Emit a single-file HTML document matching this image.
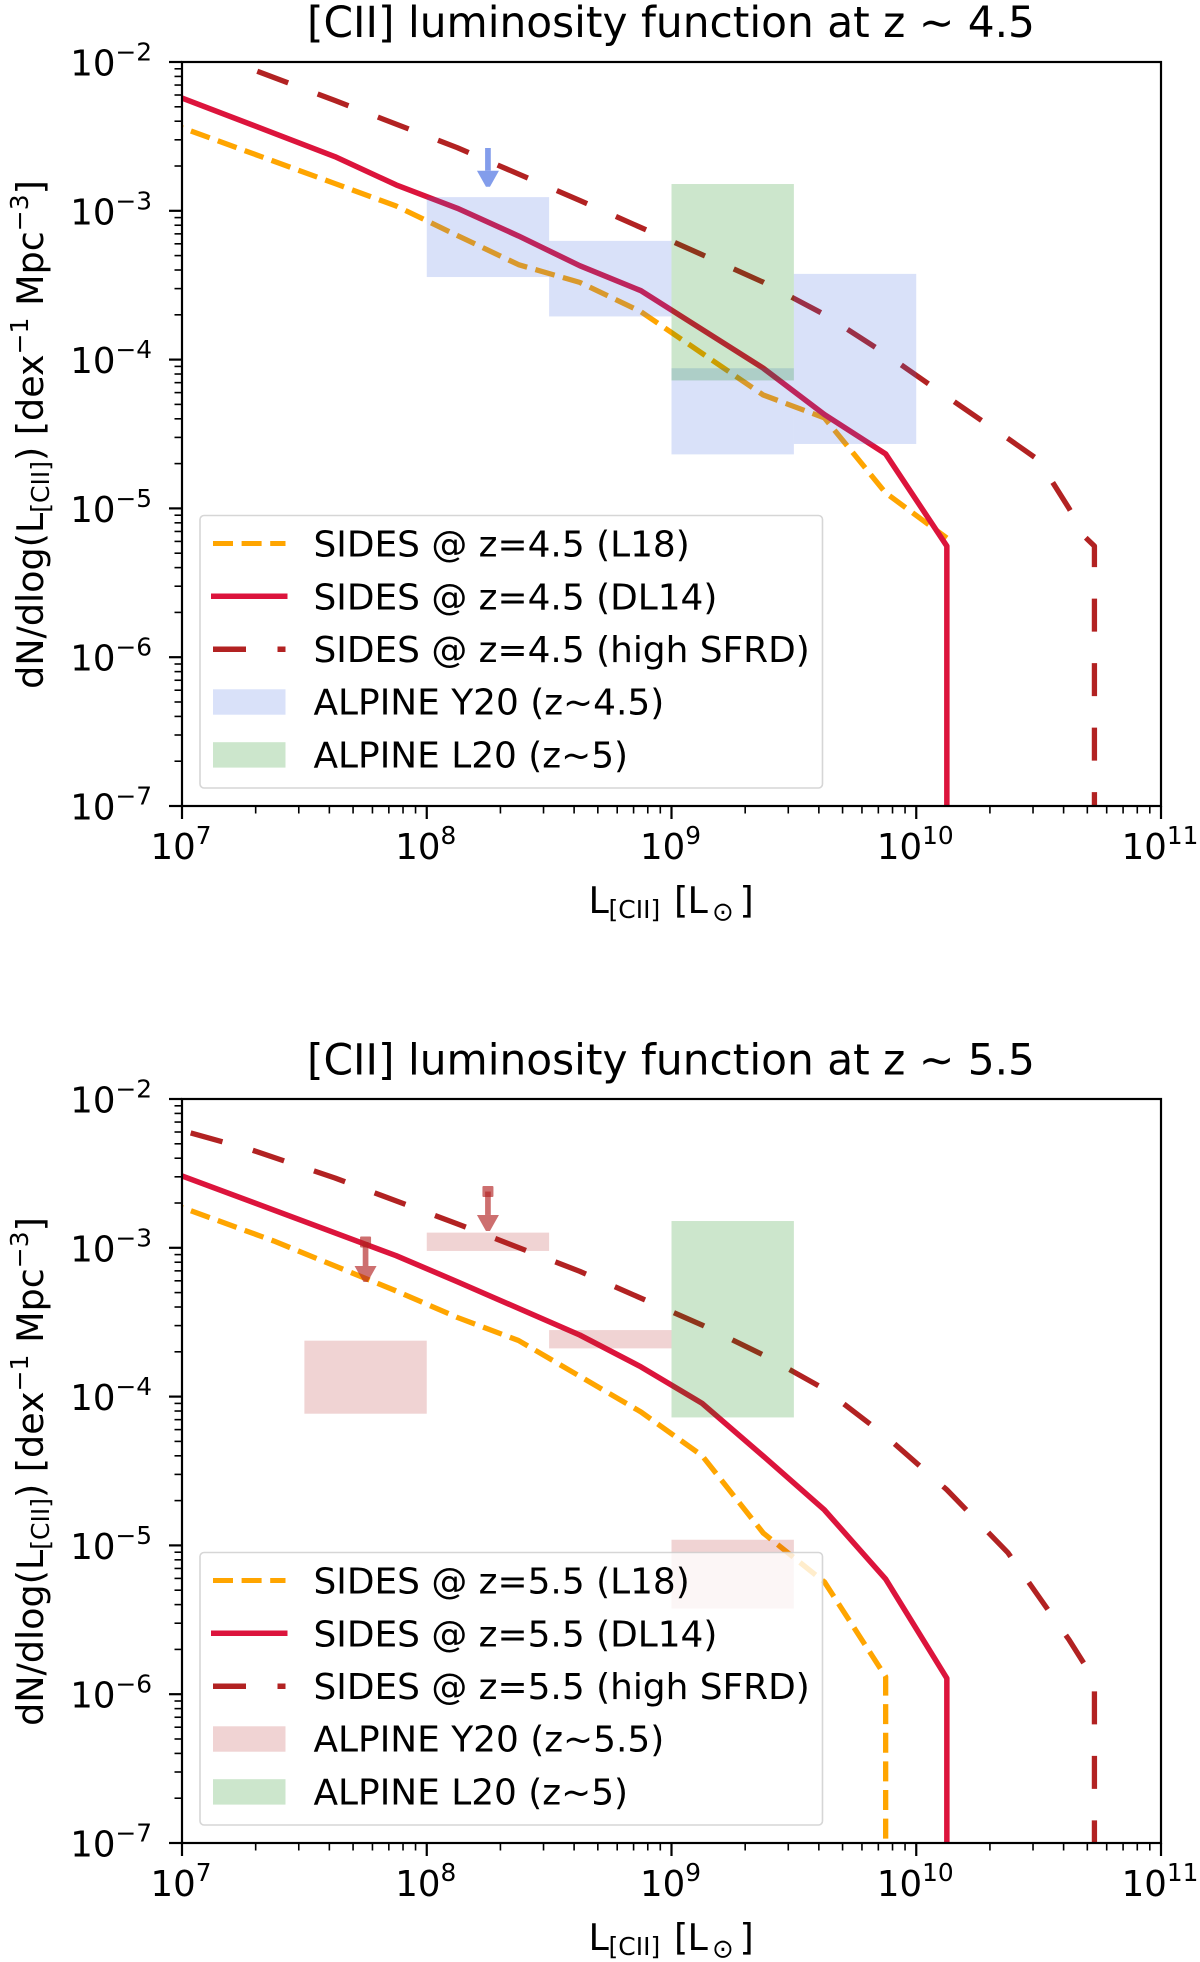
<!DOCTYPE html>
<html lang="en">
<head>
<meta charset="utf-8">
<title>[CII] luminosity functions</title>
<style>
html,body{margin:0;padding:0;background:#fff;width:1200px;height:1962px;overflow:hidden}
svg{display:block}
text{font-family:"DejaVu Sans","Liberation Sans",sans-serif;fill:#000}
.title{font-size:42.3px;text-anchor:middle}
.axis-label{font-size:36.5px}
.legend-text{font-size:35.9px}
</style>
</head>
<body>
<svg id="figure" xmlns="http://www.w3.org/2000/svg" width="1200" height="1962" viewBox="0 0 1200 1962">
  <defs>
    <clipPath id="clip-a"><rect x="182" y="62" width="979" height="744"/></clipPath>
    <clipPath id="clip-b"><rect x="182" y="1099" width="979" height="744"/></clipPath>
  </defs>

  <g id="panel-a">
    <text class="title" x="671" y="37">[CII] luminosity function at z ∼ 4.5</text>
    <g id="marks-a" clip-path="url(#clip-a)"></g>
    <g id="axes-a"></g>
    <text class="axis-label" y="913"><tspan x="588.5">L</tspan><tspan x="608.5" y="918" font-size="25">[CII]</tspan><tspan x="674" y="913">[</tspan><tspan x="687.5">L</tspan><tspan x="712" y="920.5" font-size="26">⊙</tspan><tspan x="739.5" y="913">]</tspan></text>
    <text class="axis-label" transform="translate(43,434.5) rotate(-90)" text-anchor="middle">dN/dlog(L<tspan font-size="25" dy="6">[CII]</tspan><tspan dy="-6">) [dex</tspan><tspan font-size="25" dy="-15">−1</tspan><tspan dy="15"> Mpc</tspan><tspan font-size="25" dy="-15">−3</tspan><tspan dy="15">]</tspan></text>
    <g>
      <rect x="200" y="515.5" width="622.5" height="272.5" rx="4" fill="#fff" fill-opacity="0.8" stroke="#cccccc" stroke-opacity="0.8" stroke-width="1.6"/>
      <line x1="213" y1="543.5" x2="285.5" y2="543.5" stroke="#FFA500" stroke-width="5" stroke-dasharray="20 8.6"/>
      <text class="legend-text" x="313.5" y="556.5">SIDES @ z=4.5 (L18)</text>
      <line x1="211" y1="596.3" x2="287.5" y2="596.3" stroke="#DC143C" stroke-width="5.5"/>
      <text class="legend-text" x="313.5" y="609.3">SIDES @ z=4.5 (DL14)</text>
      <line x1="213" y1="649.2" x2="285.5" y2="649.2" stroke="#B22222" stroke-width="5.5" stroke-dasharray="33 31.5"/>
      <text class="legend-text" x="313.5" y="662.2">SIDES @ z=4.5 (high SFRD)</text>
      <rect x="213" y="689.3" width="72.5" height="25.4" fill="#4169E1" fill-opacity="0.2"/>
      <text class="legend-text" x="313.5" y="714.7">ALPINE Y20 (z~4.5)</text>
      <rect x="213" y="742.2" width="72.5" height="25.4" fill="#008000" fill-opacity="0.2"/>
      <text class="legend-text" x="313.5" y="767.5">ALPINE L20 (z~5)</text>
    </g>
  </g>

  <g id="panel-b">
    <text class="title" x="671" y="1074.5">[CII] luminosity function at z ∼ 5.5</text>
    <g id="marks-b" clip-path="url(#clip-b)"></g>
    <g id="axes-b"></g>
    <text class="axis-label" y="1950"><tspan x="588.5">L</tspan><tspan x="608.5" y="1955" font-size="25">[CII]</tspan><tspan x="674" y="1950">[</tspan><tspan x="687.5">L</tspan><tspan x="712" y="1957.5" font-size="26">⊙</tspan><tspan x="739.5" y="1950">]</tspan></text>
    <text class="axis-label" transform="translate(43,1471.5) rotate(-90)" text-anchor="middle">dN/dlog(L<tspan font-size="25" dy="6">[CII]</tspan><tspan dy="-6">) [dex</tspan><tspan font-size="25" dy="-15">−1</tspan><tspan dy="15"> Mpc</tspan><tspan font-size="25" dy="-15">−3</tspan><tspan dy="15">]</tspan></text>
    <g>
      <rect x="200" y="1552.5" width="622.5" height="272.5" rx="4" fill="#fff" fill-opacity="0.8" stroke="#cccccc" stroke-opacity="0.8" stroke-width="1.6"/>
      <line x1="213" y1="1580.5" x2="285.5" y2="1580.5" stroke="#FFA500" stroke-width="5" stroke-dasharray="20 8.6"/>
      <text class="legend-text" x="313.5" y="1593.5">SIDES @ z=5.5 (L18)</text>
      <line x1="211" y1="1633.3" x2="287.5" y2="1633.3" stroke="#DC143C" stroke-width="5.5"/>
      <text class="legend-text" x="313.5" y="1646.3">SIDES @ z=5.5 (DL14)</text>
      <line x1="213" y1="1686.2" x2="285.5" y2="1686.2" stroke="#B22222" stroke-width="5.5" stroke-dasharray="33 31.5"/>
      <text class="legend-text" x="313.5" y="1699.2">SIDES @ z=5.5 (high SFRD)</text>
      <rect x="213" y="1726.3" width="72.5" height="25.4" fill="#B22222" fill-opacity="0.2"/>
      <text class="legend-text" x="313.5" y="1751.7">ALPINE Y20 (z~5.5)</text>
      <rect x="213" y="1779.2" width="72.5" height="25.4" fill="#008000" fill-opacity="0.2"/>
      <text class="legend-text" x="313.5" y="1804.5">ALPINE L20 (z~5)</text>
    </g>
  </g>
</svg>

<script>
// ---- tick labels (exponents of ten) ----
var xTickExponents = [7, 8, 9, 10, 11];
var yTickExponents = [-2, -3, -4, -5, -6, -7];

// ---- z~4.5 model curves: log10 L[CII] and log10 dN/dlogL ----
var l18Z45LogL   = [7, 7.625, 7.875, 8.125, 8.375, 8.625, 8.875, 9.375, 9.625, 9.875, 10.125];
var l18Z45LogPhi = [-2.4415, -2.817, -2.968, -3.166, -3.362, -3.481, -3.678, -4.238, -4.392, -4.896, -5.199];
var dl14Z45LogL   = [7, 7.625, 7.875, 8.125, 8.375, 8.625, 8.875, 9.375, 9.625, 9.875, 10.125, 10.125];
var dl14Z45LogPhi = [-2.242, -2.636, -2.826, -2.983, -3.169, -3.369, -3.537, -4.058, -4.369, -4.634, -5.253, -7.5];
var highZ45LogL   = [7.061, 7.625, 8.125, 8.625, 9.125, 9.375, 9.625, 9.875, 10.125, 10.375, 10.5, 10.625, 10.69, 10.728, 10.728];
var highZ45LogPhi = [-1.909, -2.259, -2.576, -2.93, -3.295, -3.48, -3.697, -3.962, -4.249, -4.531, -4.675, -5.002, -5.193, -5.253, -7.5];

// ---- z~5.5 model curves ----
var l18Z55LogL   = [7, 7.375, 7.625, 7.875, 8.125, 8.375, 8.875, 9.125, 9.375, 9.625, 9.875, 9.875];
var l18Z55LogPhi = [-2.729, -2.954, -3.122, -3.29, -3.468, -3.623, -4.103, -4.397, -4.917, -5.246, -5.882, -7.5];
var dl14Z55LogL   = [7, 7.875, 8.125, 8.625, 8.875, 9.125, 9.375, 9.625, 9.875, 10.125, 10.125];
var dl14Z55LogPhi = [-2.517, -3.053, -3.228, -3.586, -3.8, -4.045, -4.4, -4.762, -5.226, -5.893, -7.5];
var highZ55LogL   = [7, 7.286, 7.625, 8.125, 8.625, 9.125, 9.375, 9.625, 9.875, 10.125, 10.375, 10.625, 10.728, 10.728];
var highZ55LogPhi = [-2.212, -2.343, -2.531, -2.839, -3.158, -3.519, -3.72, -3.949, -4.265, -4.626, -5.05, -5.636, -5.905, -7.5];

// ---- ALPINE Y20 boxes at z~4.5 ----
var y20Z45LogLLow  = [8, 8.5, 9, 9.5];
var y20Z45LogLHigh = [8.5, 9, 9.5, 10];
var y20Z45PhiTop   = [-2.908, -3.202, -4.058, -3.424];
var y20Z45PhiBot   = [-3.445, -3.71, -4.637, -4.567];

// ---- ALPINE Y20 boxes at z~5.5 ----
var y20Z55LogLLow  = [7.5, 8, 8.5, 9];
var y20Z55LogLHigh = [8, 8.5, 9, 9.5];
var y20Z55PhiTop   = [-3.624, -2.898, -3.553, -4.962];
var y20Z55PhiBot   = [-4.115, -3.021, -3.676, -5.424];

// ---- ALPINE L20 box (z~5) ----
var l20LogLLow  = [9];
var l20LogLHigh = [9.5];
var l20PhiTop   = [-2.82];
var l20PhiBot   = [-4.14];

// ---- upper limits ----
var limitZ45LogL   = [8.25];
var limitZ45PhiTop = [-2.578];
var limitZ45PhiTip = [-2.838];
var limitZ55LogL   = [8.25, 7.75];
var limitZ55PhiTop = [-2.622, -2.961];
var limitZ55PhiTip = [-2.887, -3.23];

// ---- axis functions ----
var SVGNS = 'http://www.w3.org/2000/svg';
function xScale(logL) { return 182 + (logL - 7) * 244.75; }
function yScale(logPhi, top) { return top + (-2 - logPhi) * 148.8; }

function make(tag, parent) {
  var el = document.createElementNS(SVGNS, tag);
  parent.appendChild(el);
  return el;
}

function drawCurve(parent, top, xs, ys, color, width, dash, offset) {
  var pts = [];
  for (var i = 0; i < xs.length; i++) {
    pts.push(xScale(xs[i]).toFixed(2) + ',' + yScale(ys[i], top).toFixed(2));
  }
  var el = make('polyline', parent);
  
  
  el.setAttribute('points', pts.join(' '));
  el.setAttribute('fill', 'none');
  el.setAttribute('stroke', color);
  el.setAttribute('stroke-width', width);
  el.setAttribute('stroke-linejoin', 'round');
  if (dash) { el.setAttribute('stroke-dasharray', dash); }
  if (offset) { el.setAttribute('stroke-dashoffset', offset); }
}

function drawBoxes(parent, top, lo, hi, phiTop, phiBot, color) {
  for (var i = 0; i < lo.length; i++) {
    var el = make('rect', parent);
    
    
    el.setAttribute('x', xScale(lo[i]));
    el.setAttribute('width', xScale(hi[i]) - xScale(lo[i]));
    el.setAttribute('y', yScale(phiTop[i], top));
    el.setAttribute('height', yScale(phiBot[i], top) - yScale(phiTop[i], top));
    el.setAttribute('fill', color);
    el.setAttribute('fill-opacity', 0.2);
  }
}

function drawLimits(parent, top, xs, phiTop, phiTip, color, alpha, withCap) {
  for (var i = 0; i < xs.length; i++) {
    var x = xScale(xs[i]);
    var y0 = yScale(phiTop[i], top);
    var y1 = yScale(phiTip[i], top);
    var stem = make('line', parent);
    
    
    stem.setAttribute('x1', x);
    stem.setAttribute('x2', x);
    stem.setAttribute('y1', y0);
    stem.setAttribute('y2', y1 - 16);
    stem.setAttribute('stroke', color);
    stem.setAttribute('stroke-opacity', alpha);
    stem.setAttribute('stroke-width', 5.7);
    var head = make('polygon', parent);
    
    
    head.setAttribute('points', (x - 11) + ',' + (y1 - 16) + ' ' + (x + 11) + ',' + (y1 - 16) + ' ' + (x + 2) + ',' + y1 + ' ' + (x - 2) + ',' + y1);
    head.setAttribute('fill', color);
    head.setAttribute('fill-opacity', alpha);
    if (withCap) {
      var cap = make('rect', parent);
      
      
      cap.setAttribute('x', x - 5.5);
      cap.setAttribute('y', y0 - 5.5);
      cap.setAttribute('width', 11);
      cap.setAttribute('height', 11);
      cap.setAttribute('rx', 1);
      cap.setAttribute('fill', color);
      cap.setAttribute('fill-opacity', alpha);
    }
  }
}

function tick(parent, x1, y1, x2, y2, w) {
  var el = make('line', parent);
  
  
  el.setAttribute('x1', x1);
  el.setAttribute('y1', y1);
  el.setAttribute('x2', x2);
  el.setAttribute('y2', y2);
  el.setAttribute('stroke', '#000');
  el.setAttribute('stroke-width', w);
}

function power(parent, x, y, exp, anchor) {
  var t = make('text', parent);
  
  
  t.setAttribute('x', x);
  t.setAttribute('y', y);
  t.setAttribute('text-anchor', anchor);
  t.setAttribute('font-size', 35.5);
  var base = make('tspan', t);
  base.textContent = '10';
  var sup = make('tspan', t);
  sup.setAttribute('font-size', 24.8);
  sup.setAttribute('dy', -15);
  sup.textContent = String(exp).replace('-', '\u2212');
}

function drawAxes(parent, top) {
  var bottom = top + 744, i, m, x, y;
  var frame = make('rect', parent);
  
  
  frame.setAttribute('x', 182);
  frame.setAttribute('y', top);
  frame.setAttribute('width', 979);
  frame.setAttribute('height', 744);
  frame.setAttribute('fill', 'none');
  frame.setAttribute('stroke', '#000');
  frame.setAttribute('stroke-width', 2.2);
  for (i = 0; i < xTickExponents.length; i++) {
    x = xScale(xTickExponents[i]);
    tick(parent, x, bottom, x, bottom + 13, 2.2);
    power(parent, x - 1, bottom + 53, xTickExponents[i], 'middle');
    if (i < xTickExponents.length - 1) {
      for (m = 2; m < 10; m++) {
        x = xScale(xTickExponents[i] + Math.log10(m));
        tick(parent, x, bottom, x, bottom + 7.5, 1.6);
      }
    }
  }
  for (i = 0; i < yTickExponents.length; i++) {
    y = yScale(yTickExponents[i], top);
    tick(parent, 182, y, 169, y, 2.2);
    power(parent, 152, y + 13.5, yTickExponents[i], 'end');
    if (i > 0) {
      for (m = 2; m < 10; m++) {
        y = yScale(yTickExponents[i] + Math.log10(m), top);
        tick(parent, 182, y, 174.5, y, 1.6);
      }
    }
  }
}

var ORANGE = '#FFA500', CRIMSON = '#DC143C', FIREBRICK = '#B22222', ROYAL = '#4169E1', GREEN = '#008000';
var L18_DASH = '20 8.6', HIGH_DASH = '33 31.5';

var marksA = document.getElementById('marks-a');
drawCurve(marksA, 62, l18Z45LogL, l18Z45LogPhi, ORANGE, 5.3, L18_DASH, 19.1);
drawCurve(marksA, 62, dl14Z45LogL, dl14Z45LogPhi, CRIMSON, 5.5);
drawCurve(marksA, 62, highZ45LogL, highZ45LogPhi, FIREBRICK, 5.3, HIGH_DASH);
drawBoxes(marksA, 62, y20Z45LogLLow, y20Z45LogLHigh, y20Z45PhiTop, y20Z45PhiBot, ROYAL);
drawBoxes(marksA, 62, l20LogLLow, l20LogLHigh, l20PhiTop, l20PhiBot, GREEN);
drawLimits(marksA, 62, limitZ45LogL, limitZ45PhiTop, limitZ45PhiTip, ROYAL, 0.65, false);
drawAxes(document.getElementById('axes-a'), 62);

var marksB = document.getElementById('marks-b');
drawCurve(marksB, 1099, l18Z55LogL, l18Z55LogPhi, ORANGE, 5.3, L18_DASH, 19.1);
drawCurve(marksB, 1099, dl14Z55LogL, dl14Z55LogPhi, CRIMSON, 5.5);
drawCurve(marksB, 1099, highZ55LogL, highZ55LogPhi, FIREBRICK, 5.3, HIGH_DASH, 55.5);
drawBoxes(marksB, 1099, y20Z55LogLLow, y20Z55LogLHigh, y20Z55PhiTop, y20Z55PhiBot, FIREBRICK);
drawBoxes(marksB, 1099, l20LogLLow, l20LogLHigh, l20PhiTop, l20PhiBot, GREEN);
drawLimits(marksB, 1099, limitZ55LogL, limitZ55PhiTop, limitZ55PhiTip, FIREBRICK, 0.65, true);
drawAxes(document.getElementById('axes-b'), 1099);
</script>
</body>
</html>
